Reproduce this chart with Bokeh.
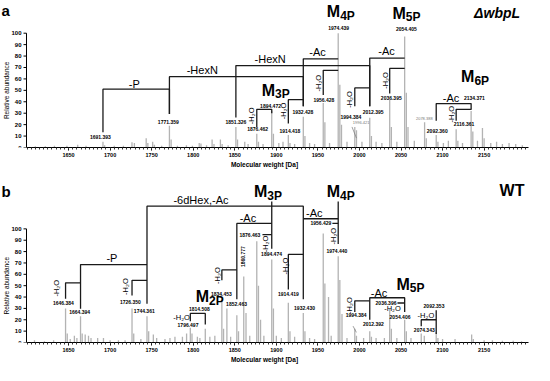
import math
from bokeh.plotting import figure
from bokeh.layouts import column
from bokeh.models import Range1d, FixedTicker
from bokeh.core.properties import value
from bokeh.embed import file_html
from bokeh.resources import INLINE

FONT = "Liberation Sans"

X_MIN, X_MAX = 1599.4, 2203.4      # visible axis extent
X_LEFT = 1568.1                    # canvas left edge (room for the y axis)
TICK_LEN = 3.6                     # y tick length in data units (~3 px)
x_ticks = [1650, 1700, 1750, 1800, 1850, 1900, 1950, 2000, 2050, 2100, 2150]
y_ticks = [0, 10, 20, 30, 40, 50, 60, 70, 80, 90, 100]
x_minor = list(range(1600, 2205, 5))

# ---------------- panel a (delta wbpL) spectrum ----------------
a_mass = [1610, 1622, 1633, 1648, 1661, 1671, 1691.393, 1693.4, 1705, 1716,
          1726.3, 1729.2, 1743.4, 1745.4, 1751.2, 1753.3, 1762, 1771.359, 1773.4, 1781,
          1791.8, 1799, 1807.2, 1809.3, 1816, 1822.7, 1825, 1832.7, 1834.8, 1842,
          1851.326, 1853.3, 1862, 1866, 1876.462, 1878.5, 1884, 1894.472, 1896.5, 1903,
          1908, 1914.418, 1916.4, 1922, 1932.428, 1934.4, 1940, 1946, 1956.428, 1958.4,
          1964, 1974.439, 1976.4, 1978.4, 1985, 1994.384, 1996.421, 2003, 2012.395, 2014.4,
          2020, 2027, 2036.395, 2038.4, 2045, 2054.405, 2056.4, 2058.4, 2066, 2078.388,
          2080.4, 2092.36, 2094.4, 2101, 2107, 2116.361, 2118.4, 2124, 2134.371, 2136.4,
          2142, 2148, 2150, 2158, 2165, 2172, 2180, 2188, 2196]
a_abund = [1, 1, 1.5, 1.5, 2.5, 1.5, 5, 2, 1.5, 1.5,
           4.5, 4, 8, 4, 5, 2.5, 1.5, 19, 7, 1.5,
           2, 1.5, 4, 3.5, 2, 7, 3, 7, 3, 2,
           18, 7, 5, 3, 12, 5, 3, 32, 12, 4,
           5, 11, 4, 3, 27, 10, 4, 3, 39, 22,
           4, 100, 55, 20, 5, 18, 15, 5, 26, 10,
           5, 4, 42, 18, 5, 97, 48, 18, 6, 22,
           8, 11, 5, 4, 6, 16, 6, 4, 32, 14,
           6, 17, 8, 4, 5, 3, 4, 3, 2]

# ---------------- panel b (WT) spectrum ----------------
b_mass = [1609, 1621, 1632, 1646.384, 1648.4, 1652, 1657, 1660, 1664.394, 1666.4,
          1670, 1674, 1677, 1685, 1692, 1700, 1710, 1718, 1726.35, 1728.4,
          1737, 1744.361, 1746.4, 1752, 1756, 1766, 1772, 1778, 1787, 1792,
          1796.497, 1798.5, 1805, 1808, 1814.508, 1820, 1826, 1834.453, 1836.5, 1840.5,
          1845, 1852.463, 1854.5, 1860.777, 1863.5, 1868, 1876.463, 1878.5, 1881, 1885,
          1894.474, 1896.5, 1900, 1906, 1914.419, 1916.4, 1922, 1932.43, 1934.4, 1940,
          1946, 1956.429, 1958.4, 1962.8, 1966, 1974.44, 1976.4, 1979, 1985, 1994.384,
          1996.4, 2005, 2012.392, 2014.4, 2020, 2030, 2036.396, 2038.4, 2045, 2054.406,
          2056.4, 2062, 2074.343, 2078, 2092.353, 2094.4, 2100, 2115, 2135, 2137,
          2150, 2160, 2172, 2185, 2195]
b_abund = [2, 1, 2, 30, 8, 3, 6, 4, 23, 8,
           7, 6, 4, 4, 4, 2, 2, 2, 30, 8,
           3, 23, 10, 7, 4, 3, 4, 5, 5, 8,
           13, 8, 5, 4, 12, 5, 6, 39, 12, 30,
           5, 24, 10, 58, 26, 6, 89, 50, 20, 6,
           73, 30, 6, 4, 35, 10, 5, 26, 10, 4,
           3, 96, 52, 40, 6, 76, 55, 25, 4, 12,
           6, 4, 10, 5, 4, 4, 30, 12, 4, 20,
           10, 4, 8, 6, 9, 4, 3, 3, 7, 3,
           2, 2, 1.5, 1.5, 1]

assert len(a_mass) == len(a_abund) and len(b_mass) == len(b_abund)

# ---------------- annotations, panel a ----------------
a_brackets = [
    ([1691.393, 1691.393, 1771.359, 1771.359], [13.4, 51, 51, 29.4]),      # -P
    ([1771.359, 1771.359, 1932.428, 1932.428], [29.4, 62, 62, 36.1]),      # -HexN
    ([1851.326, 1851.326, 2012.395, 2012.395], [26.3, 71.7, 71.7, 36.1]),  # -HexN
    ([1932.428, 1932.428, 1974.439], [36.1, 77.6, 77.6]),                  # -Ac
    ([2012.395, 2012.395, 2054.405], [36.1, 78.2, 78.2]),                  # -Ac
    ([1876.462, 1876.462, 1894.472, 1894.472], [17.9, 33.4, 33.4, 30]),    # -H2O
    ([1914.418, 1914.418, 1932.428], [21, 41.8, 41.8]),
    ([1956.428, 1956.428, 1974.439], [46, 67.5, 67.5]),
    ([1994.384, 1994.384, 2012.395], [36.1, 52.1, 52.1]),
    ([2036.395, 2036.395, 2054.405], [47.3, 69.2, 69.2]),
    ([2092.36, 2092.36, 2134.371, 2134.371], [23.5, 38.4, 38.4, 33]),      # -Ac
    ([2116.361, 2116.361, 2134.371], [23.5, 33.4, 33.4]),                  # -H2O
]
a_leaders = [([1991, 1996.421], [18, 8.2])]
a_num_x = [1688.2, 1770, 1851.4, 1877.5, 1893, 1916.4, 1932, 1957.2, 1975, 1989.6,
           2016.5, 2038.3, 2056.5, 2093.6, 2125.9, 2138.3]
a_num_y = [9.5, 22, 22, 16, 36.6, 14.3, 31.1, 41.8, 104.8, 27.1,
           31.1, 43.7, 104, 14.3, 20.8, 43.1]
a_num_t = ["1691.393", "1771.359", "1851.326", "1876.462", "1894.472", "1914.418",
           "1932.428", "1956.428", "1974.439", "1994.384", "2012.395", "2036.395",
           "2054.405", "2092.360", "2116.361", "2134.371"]
a_minor_x = [2002.1, 2078]
a_minor_y = [22.1, 25]
a_minor_t = ["1996.421", "2078.388"]
a_loss_x = [1729.1, 1810.9, 1892.6, 1949.5, 2032.5, 2110.3]
a_loss_y = [55.5, 67.5, 77.7, 83.8, 84.3, 43.1]
a_loss_t = ["-P", "-HexN", "-HexN", "-Ac", "-Ac", "-Ac"]
a_h2o_x = [1869.6, 1908.6, 1950.2, 1988.4, 2031.3, 2111.1]
a_h2o_y = [27.7, 31.9, 56.3, 42, 58.6, 29.2]
a_ion_x = [1898.5, 1976.8, 2055.8, 2138.3]
a_ion_y = [50.2, 118.7, 117.3, 61.9]
a_ion_sub = ["3P", "4P", "5P", "6P"]

# ---------------- annotations, panel b ----------------
b_brackets = [
    ([1646.384, 1646.384, 1664.394], [38.6, 52.5, 52.5]),                  # -H2O
    ([1664.394, 1664.394, 1744.361], [29.75, 68.6, 68.6]),                 # -P
    ([1726.35, 1726.35, 1744.361], [41.4, 54.75, 54.75]),                  # -H2O
    ([1744.361, 1744.361, 1932.43, 1932.43], [34.2, 120, 120, 38]),        # -6dHex,-Ac
    ([1796.497, 1796.497, 1814.508, 1814.508], [18.6, 25.6, 25.6, 15.8]),  # -H2O
    ([1834.453, 1834.453, 1852.463], [54.75, 63.9, 63.9]),                 # -H2O
    ([1852.463, 1852.463, 1894.474], [38, 104.75, 104.75]),                # -Ac
    ([1894.474, 1894.474], [82.5, 124]),                                   # M3P
    ([1883.3, 1894.474], [95, 95]),
    ([1914.419, 1914.419, 1932.43], [46.7, 77.5, 77.5]),                   # -H2O
    ([1932.43, 1974.44], [108.9, 108.9]),                                  # -Ac
    ([1974.44, 1974.44], [86.7, 124]),                                     # M4P
    ([1967.4, 1974.44], [104.75, 104.75]),
    ([1994.384, 1994.384, 2012.392], [26.9, 36.7, 36.7]),                  # -H2O
    ([2012.392, 2012.392, 2054.406, 2054.406], [20, 39.4, 39.4, 26.9]),    # -Ac
    ([2045.7, 2054.406], [34.75, 34.75]),
    ([2074.343, 2074.343, 2092.353], [14.4, 20, 20]),                      # -H2O
    ([2092.353, 2092.353], [28.3, 7.5]),
]
b_leaders = [([1992.3, 1996.3], [14.4, 8.9])]
b_num_x = [1643.8, 1663.3, 1724.4, 1741.1, 1793.7, 1807.4, 1833.9, 1852.1, 1894.2,
           1914.5, 1933.9, 1972.9, 1996, 2016.8, 2048.8, 2078, 2089.7]
b_num_y = [34.4, 26.9, 35.8, 27.5, 15.8, 29.75, 42.5, 33.5, 77.5,
           42.25, 30.25, 80.25, 24.2, 16.4, 22.75, 10.8, 32.5]
b_num_t = ["1646.384", "1664.394", "1726.350", "1744.361", "1796.497", "1814.508",
           "1834.453", "1852.463", "1894.474", "1914.419", "1932.430", "1974.440",
           "1994.384", "2012.392", "2054.406", "2074.343", "2092.353"]
b_numr_x = [1880.8, 1966.2, 2044.5]
b_numr_y = [95, 104.75, 34.75]
b_numr_t = ["1876.463", "1956.429", "2036.396"]
b_rot_num = (1859.9, 75.6, "1860.777")
b_loss_x = [1702.2, 1809.3, 1865.8, 1945.6, 2023.5]
b_loss_y = [74.75, 125.6, 110, 113.6, 44]
b_loss_t = ["-P", "-6dHex,-Ac", "-Ac", "-Ac", "-Ac"]
b_h2o_x = [1636, 1718.9, 1829, 1887.1, 1910.5, 1969, 1988.4]
b_h2o_y = [47.75, 49.2, 58.9, 86.7, 67.25, 93.6, 32.5]
b_h2oh_x = [1786, 2039.8, 2080]
b_h2oh_y = [21.9, 29.75, 24.2]
b_ion_x = [1819, 1889.2, 1976.7, 2060.5]
b_ion_y = [40.2, 132.5, 132.5, 51.25]
b_ion_sub = ["2P", "3P", "4P", "5P"]


def txt(p, xs, ys, texts, size, style="normal", align="center", angle=0.0,
        color="black", y_offset=0, x_offset=0):
    p.text(x=xs, y=ys, text=texts, text_font=value(FONT), text_font_size=size,
           text_font_style=style, text_align=align, text_baseline="middle",
           angle=angle, text_color=color, y_offset=y_offset, x_offset=x_offset)


def make_panel(mass, abund, height, ytop, bborder, tag, tag_y):
    p = figure(width=534, height=height, x_range=Range1d(X_LEFT, X_MAX),
               y_range=Range1d(0, ytop), output_backend="svg", toolbar_location=None,
               min_border_left=0, min_border_right=6, min_border_top=0,
               min_border_bottom=bborder, y_axis_location=None)
    p.outline_line_color = None
    p.grid.visible = False
    p.background_fill_color = "white"
    p.segment(x0=mass, y0=[0] * len(mass), x1=mass, y1=abund,
              line_color="#b3b3b3", line_width=1.3)
    # x axis (bottom)
    xa = p.xaxis[0]
    xa.bounds = (X_MIN, X_MAX)
    xa.ticker = FixedTicker(ticks=x_ticks, minor_ticks=x_minor)
    xa.axis_line_color = "black"
    xa.major_tick_line_color = "black"
    xa.minor_tick_line_color = "#333333"
    xa.major_label_text_color = "black"
    xa.major_label_text_font = FONT
    xa.major_label_text_font_size = "5.5px"
    xa.major_label_text_font_style = "bold"
    xa.major_tick_out = 3
    xa.major_tick_in = 0
    xa.minor_tick_out = 2
    xa.minor_tick_in = 0
    xa.major_label_standoff = 2
    xa.axis_label = "Molecular weight [Da]"
    xa.axis_label_text_color = "black"
    xa.axis_label_text_font = FONT
    xa.axis_label_text_font_size = "6.5px"
    xa.axis_label_text_font_style = "bold"
    xa.axis_label_standoff = 1
    # y axis drawn by hand at X_MIN (0..100)
    p.segment(x0=[X_MIN], y0=[0], x1=[X_MIN], y1=[100], line_color="black",
              line_width=1)
    p.segment(x0=[X_MIN - TICK_LEN] * len(y_ticks), y0=y_ticks,
              x1=[X_MIN] * len(y_ticks), y1=y_ticks, line_color="black", line_width=1)
    txt(p, [X_MIN] * len(y_ticks), y_ticks, [str(t) for t in y_ticks], "6px",
        style="bold", align="right", x_offset=-5)
    txt(p, [X_MIN], [50], ["Relative abundance"], "6.5px", angle=math.pi / 2,
        x_offset=-20)
    txt(p, [X_LEFT], [tag_y], [tag], "15px", style="bold", align="left", x_offset=1)
    return p


def decorate(p, brackets, leaders, num_x, num_y, num_t, loss_x, loss_y, loss_t,
             h2o_x, h2o_y, ion_x, ion_y, ion_sub):
    p.multi_line(xs=[b[0] for b in brackets], ys=[b[1] for b in brackets],
                 line_color="#1a1a1a", line_width=1.3)
    p.multi_line(xs=[b[0] for b in leaders], ys=[b[1] for b in leaders],
                 line_color="#777777", line_width=0.7)
    txt(p, num_x, num_y, num_t, "5px", style="bold")
    txt(p, loss_x, loss_y, loss_t, "11px")
    txt(p, h2o_x, h2o_y, ["-H₂O"] * len(h2o_x), "7.5px", angle=math.pi / 2)
    txt(p, ion_x, ion_y, ["M"] * len(ion_x), "16px", style="bold", align="right")
    txt(p, ion_x, ion_y, ion_sub, "12px", style="bold", align="left", y_offset=4)


# ---------------- panel a ----------------
pa = make_panel(a_mass, a_abund, 182, 128.6, 35, "a", 119.5)
decorate(pa, a_brackets, a_leaders, a_num_x, a_num_y, a_num_t, a_loss_x, a_loss_y,
         a_loss_t, a_h2o_x, a_h2o_y, a_ion_x, a_ion_y, a_ion_sub)
txt(pa, a_minor_x, a_minor_y, a_minor_t, "4px", color="#777777")
txt(pa, [2165.6], [117.4], ["ΔwbpL"], "14px", style="bold italic")

# ---------------- panel b ----------------
pb = make_panel(b_mass, b_abund, 183, 140.8, 21, "b", 132.5)
decorate(pb, b_brackets, b_leaders, b_num_x, b_num_y, b_num_t, b_loss_x, b_loss_y,
         b_loss_t, b_h2o_x, b_h2o_y, b_ion_x, b_ion_y, b_ion_sub)
txt(pb, b_numr_x, b_numr_y, b_numr_t, "5px", style="bold", align="right")
txt(pb, [b_rot_num[0]], [b_rot_num[1]], [b_rot_num[2]], "5px", style="bold",
    angle=math.pi / 2)
txt(pb, b_h2oh_x, b_h2oh_y, ["-H₂O"] * len(b_h2oh_x), "7.5px")
txt(pb, [2183.5], [133.9], ["WT"], "16px", style="bold")

layout = column(pa, pb, spacing=0)
open("out.html", "w").write(file_html(layout, INLINE))
